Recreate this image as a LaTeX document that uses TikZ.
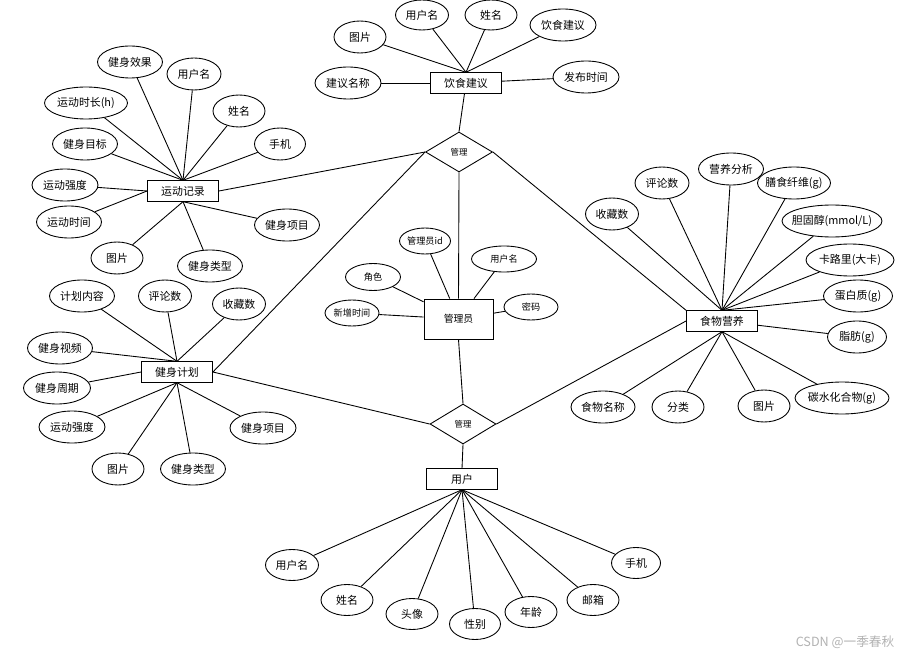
\documentclass[tikz,border=0pt]{standalone}
\usepackage{fontspec}
\setmainfont{Noto Sans CJK SC}
\usepackage{tikz}
\usetikzlibrary{shapes.geometric}

\begin{document}
\begin{tikzpicture}[x=0.02cm, y=-0.02cm,
			font=\fontsize{6.2}{7.5}\selectfont,
			ent/.style={draw, rectangle, line width=0.5pt, minimum width=1.42cm, minimum height=0.41cm, inner sep=0pt},
			attr/.style={draw, ellipse, line width=0.5pt, inner xsep=-12pt, inner ysep=0pt, minimum width=#1, minimum height=0.64cm},
			attr/.default=1.04cm,
			sattr/.style={attr=#1, minimum height=0.52cm, font=\fontsize{5.2}{6}\selectfont},
			rel/.style={draw, diamond, line width=0.5pt, inner sep=0pt, minimum width=1.34cm, minimum height=0.8cm, font=\fontsize{4.8}{5.5}\selectfont},
			link/.style={line width=0.5pt}]
			
			\useasboundingbox (0,0) rectangle (918,658);
			
			% entities and relations
			\node[ent] (diet) at (466,83) {饮食建议};
			\node[ent] (rec) at (183,191) {运动记录};
			\node[ent] (plan) at (177,372) {健身计划};
			\node[ent, minimum width=1.38cm, minimum height=0.8cm, font=\fontsize{5.6}{6.5}\selectfont] (admin) at (458.5,319) {管理员};
			\node[ent] (food) at (722,321) {食物营养};
			\node[ent] (user) at (462,479) {用户};
			\node[rel] (rel1) at (459,152) {管理};
			\node[rel, minimum width=1.32cm] (rel2) at (463,424) {管理};
			
			% 饮食建议
			\node[attr] (d1) at (360,37) {图片};
			\node[attr=1.06cm, minimum height=0.6cm] (d2) at (422,15) {用户名};
			\node[attr, minimum height=0.6cm] (d3) at (491,15) {姓名};
			\node[attr=1.32cm] (d4) at (563,25) {饮食建议};
			\node[attr=1.32cm] (d5) at (348,83) {建议名称};
			\node[attr=1.32cm] (d6) at (586,77) {发布时间};
			
			% 运动记录
			\node[attr=1.3cm] (r1) at (130,62) {健身效果};
			\node[attr=1.08cm] (r2) at (194,74) {用户名};
			\node[attr=1.66cm] (r3) at (86,103) {运动时长(h)};
			\node[attr] (r4) at (239,111) {姓名};
			\node[attr=1.3cm] (r5) at (85,144) {健身目标};
			\node[attr=1.02cm] (r6) at (280,144) {手机};
			\node[attr=1.32cm] (r7) at (65,185) {运动强度};
			\node[attr=1.3cm] (r8) at (69,222) {运动时间};
			\node[attr=1.3cm] (r9) at (287,225) {健身项目};
			\node[attr] (r10) at (117,258) {图片};
			\node[attr=1.3cm] (r11) at (210,266) {健身类型};
			
			% 健身计划
			\node[attr=1.3cm] (p1) at (82,296) {计划内容};
			\node[attr=1.06cm] (p2) at (165,296) {评论数};
			\node[attr=1.06cm] (p3) at (239,304) {收藏数};
			\node[attr=1.3cm] (p4) at (60,348) {健身视频};
			\node[attr=1.34cm] (p5) at (57,388) {健身周期};
			\node[attr=1.32cm] (p6) at (72,427) {运动强度};
			\node[attr=1.32cm] (p7) at (263,428) {健身项目};
			\node[attr] (p8) at (118,469) {图片};
			\node[attr=1.3cm] (p9) at (193,469) {健身类型};
			
			% 管理员
			\node[sattr=1.02cm] (a1) at (425,241) {管理员id};
			\node[sattr=1.3cm] (a2) at (504,259) {用户名};
			\node[sattr=1.1cm, minimum height=0.54cm] (a3) at (373,277) {角色};
			\node[sattr=1.08cm] (a4) at (352,313) {新增时间};
			\node[sattr=1.08cm] (a5) at (531,307) {密码};
			
			% 食物营养
			\node[attr=1.06cm] (f1) at (612,214) {收藏数};
			\node[attr=1.08cm] (f2) at (662,183) {评论数};
			\node[attr=1.3cm] (f3) at (731,169) {营养分析};
			\node[attr=1.46cm] (f4) at (794,183) {膳食纤维(g)};
			\node[attr=2cm] (f5) at (832,221) {胆固醇(mmol/L)};
			\node[attr=1.76cm] (f6) at (850,260) {卡路里(大卡)};
			\node[attr=1.38cm] (f7) at (858,296) {蛋白质(g)};
			\node[attr=1.18cm] (f8) at (857,337) {脂肪(g)};
			\node[attr=1.88cm] (f9) at (842,398) {碳水化合物(g)};
			\node[attr] (f10) at (764,406) {图片};
			\node[attr] (f11) at (678,407) {分类};
			\node[attr=1.28cm] (f12) at (603,407) {食物名称};
			
			% 用户
			\node[attr=1.06cm, minimum height=0.62cm] (u1) at (292,565) {用户名};
			\node[attr, minimum height=0.62cm] (u2) at (347,600) {姓名};
			\node[attr, minimum height=0.62cm] (u3) at (412,614) {头像};
			\node[attr=1.02cm, minimum height=0.62cm] (u4) at (475,624) {性别};
			\node[attr, minimum height=0.62cm] (u5) at (531,612) {年龄};
			\node[attr, minimum height=0.62cm] (u6) at (593,600) {邮箱};
			\node[attr=0.98cm, minimum height=0.62cm] (u7) at (636,563) {手机};
			
			\node[text=gray!60, font=\fontsize{7.2}{8}\selectfont] (mark) at (845,642) {CSDN @一季春秋};
			
			% relations
			\draw[link] (diet) -- (rel1.north);
			\draw[link] (rel1.west) -- (rec.east);
			\draw[link] (rel1.west) -- (plan.east);
			\draw[link] (rel1.south) -- (admin.north);
			\draw[link] (rel1.east) -- (food.north west);
			\draw[link] (admin.south) -- (rel2.north);
			\draw[link] (plan.east) -- (rel2.west);
			\draw[link] (rel2.east) -- (food.west);
			\draw[link] (rel2.south) -- (user.north);
			
			% attributes
			\draw[link] (diet.north) -- (d1);
			\draw[link] (diet.north) -- (d2);
			\draw[link] (diet.north) -- (d3);
			\draw[link] (diet.north) -- (d4);
			\draw[link] (diet) -- (d5);
			\draw[link] (diet) -- (d6);
			
			\draw[link] (rec.north) -- (r1);
			\draw[link] (rec.north) -- (r2);
			\draw[link] (rec.north) -- (r3);
			\draw[link] (rec.north) -- (r4);
			\draw[link] (rec.north) -- (r5);
			\draw[link] (rec.north) -- (r6);
			\draw[link] (rec.west) -- (r7);
			\draw[link] (rec.west) -- (r8);
			\draw[link] (rec.south) -- (r9);
			\draw[link] (rec.south) -- (r10);
			\draw[link] (rec.south) -- (r11);
			
			\draw[link] (plan.north) -- (p1);
			\draw[link] (plan.north) -- (p2);
			\draw[link] (plan.north) -- (p3);
			\draw[link] (plan.north) -- (p4);
			\draw[link] (plan.west) -- (p5);
			\draw[link] (plan.south) -- (p6);
			\draw[link] (plan.south) -- (p7);
			\draw[link] (plan.south) -- (p8);
			\draw[link] (plan.south) -- (p9);
			
			\draw[link] (admin) -- (a1);
			\draw[link] (admin) -- (a2);
			\draw[link] (admin) -- (a3);
			\draw[link] (admin) -- (a4);
			\draw[link] (admin) -- (a5);
			
			\draw[link] (food.north) -- (f1);
			\draw[link] (food.north) -- (f2);
			\draw[link] (food.north) -- (f3);
			\draw[link] (food.north) -- (f4);
			\draw[link] (food.north) -- (f5);
			\draw[link] (food.north) -- (f6);
			\draw[link] (food.north) -- (f7);
			\draw[link] (food) -- (f8);
			\draw[link] (food.south) -- (f9);
			\draw[link] (food.south) -- (f10);
			\draw[link] (food.south) -- (f11);
			\draw[link] (food.south) -- (f12);
			
			\draw[link] (user.south) -- (u1);
			\draw[link] (user.south) -- (u2);
			\draw[link] (user.south) -- (u3);
			\draw[link] (user.south) -- (u4);
			\draw[link] (user.south) -- (u5);
			\draw[link] (user.south) -- (u6);
			\draw[link] (user.south) -- (u7);
			
		\end{tikzpicture}
\end{document}
